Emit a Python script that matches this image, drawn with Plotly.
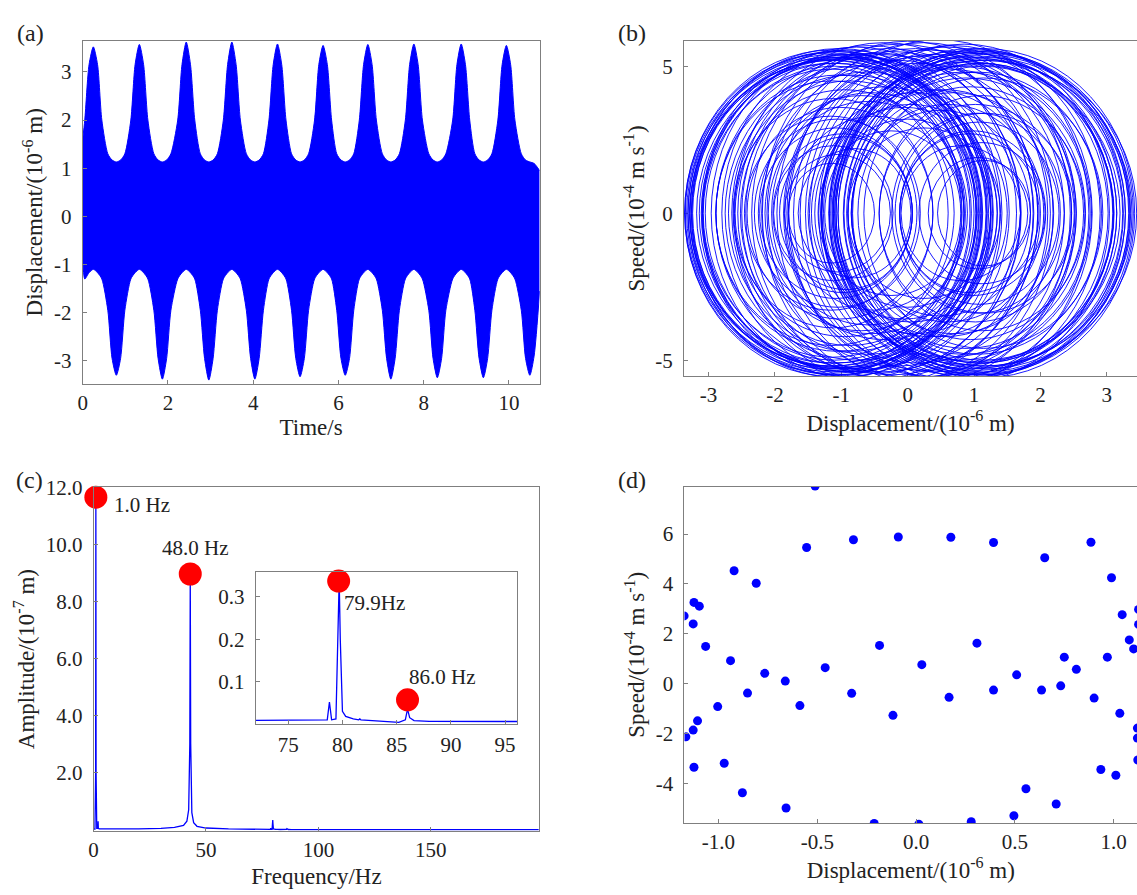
import plotly.graph_objects as go

# ---------------- data ----------------
# (a) displacement time history: upper / lower edges of the dense oscillation band
t_env = [0.00,
         0.05, 0.15, 0.25, 0.35, 0.45, 0.59, 0.69, 0.79, 0.89, 0.99,
         1.13, 1.23, 1.33, 1.43, 1.53, 1.67, 1.77, 1.87, 1.97, 2.07,
         2.23, 2.33, 2.43, 2.53, 2.63, 2.76, 2.86, 2.96, 3.06, 3.16,
         3.30, 3.40, 3.50, 3.60, 3.70, 3.84, 3.94, 4.04, 4.14, 4.24,
         4.37, 4.47, 4.57, 4.67, 4.77, 4.90, 5.00, 5.10, 5.20, 5.30,
         5.44, 5.54, 5.64, 5.74, 5.84, 5.96, 6.06, 6.16, 6.26, 6.36,
         6.49, 6.59, 6.69, 6.79, 6.89, 7.03, 7.13, 7.23, 7.33, 7.43,
         7.57, 7.67, 7.77, 7.87, 7.97, 8.12, 8.22, 8.32, 8.42, 8.52,
         8.68, 8.78, 8.88, 8.98, 9.08, 9.20, 9.30, 9.40, 9.50, 9.60,
         9.74, 9.84, 9.94, 10.04, 10.14, 10.29, 10.39, 10.49, 10.59,
         10.72]
upper_env = [1.6,
             2.0, 3.15, 3.52, 3.15, 2.0, 1.3, 1.17, 1.13, 1.17, 1.3,
             2.0, 3.15, 3.57, 3.15, 2.0, 1.3, 1.17, 1.13, 1.17, 1.3,
             2.0, 3.15, 3.62, 3.15, 2.0, 1.3, 1.17, 1.13, 1.17, 1.3,
             2.0, 3.15, 3.62, 3.15, 2.0, 1.3, 1.17, 1.13, 1.17, 1.3,
             2.0, 3.15, 3.58, 3.15, 2.0, 1.3, 1.17, 1.13, 1.17, 1.3,
             2.0, 3.15, 3.55, 3.15, 2.0, 1.3, 1.17, 1.13, 1.17, 1.3,
             2.0, 3.15, 3.57, 3.15, 2.0, 1.3, 1.17, 1.13, 1.17, 1.3,
             2.0, 3.15, 3.58, 3.15, 2.0, 1.3, 1.17, 1.13, 1.17, 1.3,
             2.0, 3.15, 3.58, 3.15, 2.0, 1.3, 1.17, 1.13, 1.17, 1.3,
             2.0, 3.15, 3.55, 3.15, 2.0, 1.3, 1.17, 1.13, 1.1,
             0.95]
lower_env = [-0.8,
             -1.3, -1.17, -1.1, -1.17, -1.3, -1.95, -2.95, -3.30, -2.95, -1.95,
             -1.3, -1.17, -1.1, -1.17, -1.3, -1.95, -2.95, -3.38, -2.95, -1.95,
             -1.3, -1.17, -1.1, -1.17, -1.3, -1.95, -2.95, -3.40, -2.95, -1.95,
             -1.3, -1.17, -1.1, -1.17, -1.3, -1.95, -2.95, -3.38, -2.95, -1.95,
             -1.3, -1.17, -1.1, -1.17, -1.3, -1.95, -2.95, -3.33, -2.95, -1.95,
             -1.3, -1.17, -1.1, -1.17, -1.3, -1.95, -2.95, -3.30, -2.95, -1.95,
             -1.3, -1.17, -1.1, -1.17, -1.3, -1.95, -2.95, -3.38, -2.95, -1.95,
             -1.3, -1.17, -1.1, -1.17, -1.3, -1.95, -2.95, -3.35, -2.95, -1.95,
             -1.3, -1.17, -1.1, -1.17, -1.3, -1.95, -2.95, -3.35, -2.95, -1.95,
             -1.3, -1.17, -1.1, -1.17, -1.3, -1.95, -2.95, -3.30, -2.90,
             -1.55]

# (b) phase portrait: loop centres, half widths and half heights (read from the tangle)
loop_center = [-1.16, -1.15, -1.14, -1.12, -1.10, -1.07, -1.03, -0.98, -0.92, -0.85, -0.77, -0.68,
               -0.58, -0.47, -0.36, -0.24, -0.12, 0.00, 0.12, 0.24, 0.36, 0.47, 0.58, 0.68,
               0.77, 0.85, 0.92, 0.98, 1.03, 1.07, 1.10, 1.12, 1.14, 1.15, 1.16, 1.15, 1.13, 1.10,
               -1.13, -1.11, -1.08, -1.05, 0.30, -0.30, 0.90, -0.90, 1.05, -1.00,
               -1.15, 1.15, -1.12, 1.12, -1.08, 1.08, -1.02, 1.02, -0.95, 0.95, -0.85, 0.85,
               -0.70, 0.70, -0.50, 0.50, -0.25, 0.25, 0.00, -1.14, 1.14, -1.10, 1.10, -0.98,
               0.98, -0.80, 0.80, -0.60, 0.60, -0.35, 0.35, -1.16, 1.16, -1.06, 1.06, 0.10,
               -1.16, -1.13, -1.09, -1.04, -0.96, -0.88, -0.75, -0.62, -0.40, -0.15, 0.15, 0.40,
               0.62, 0.75, 0.88, 0.96, 1.04, 1.09, 1.13, 1.16, -1.12, 1.12, -1.06, 1.06, -0.93,
               0.93, -0.55, 0.55, -0.05, 0.05]
loop_half_w = [2.20, 2.18, 2.22, 2.19, 2.21, 2.17, 2.23, 2.20, 2.18, 2.24, 2.19, 2.21,
               2.22, 2.18, 2.25, 2.20, 2.23, 2.19, 2.24, 2.21, 2.18, 2.26, 2.20, 2.22,
               2.25, 2.19, 2.23, 2.27, 2.21, 2.26, 2.24, 2.28, 2.22, 2.27, 2.29, 2.20, 2.25, 2.18,
               2.16, 2.24, 2.20, 2.23, 2.17, 2.26, 2.21, 2.19, 2.15, 2.25,
               0.65, 0.70, 0.90, 0.95, 1.15, 1.20, 1.40, 1.45, 1.65, 1.70, 1.85, 1.90,
               1.55, 1.60, 1.30, 1.35, 1.10, 1.15, 1.25, 1.75, 1.80, 1.95, 2.00, 1.05,
               1.10, 0.85, 0.90, 1.50, 1.45, 1.70, 1.65, 1.30, 1.35, 0.80, 0.75, 1.60,
               2.10, 1.95, 2.05, 1.85, 2.15, 1.75, 2.00, 1.90, 2.10, 2.05, 2.00, 2.12,
               1.92, 2.02, 1.80, 2.14, 1.88, 2.06, 1.96, 2.12, 1.50, 1.55, 1.25, 1.30, 1.00,
               1.05, 1.60, 1.65, 1.40, 1.45]
loop_half_h = [5.45, 5.30, 5.55, 5.20, 5.50, 5.35, 5.60, 5.25, 5.55, 5.40, 5.65, 5.30,
               5.70, 5.45, 5.80, 5.50, 5.75, 5.85, 5.60, 5.80, 5.55, 5.90, 5.65, 5.70,
               5.50, 5.75, 5.45, 5.60, 5.35, 5.55, 5.25, 5.50, 5.40, 5.60, 5.30, 5.45, 5.20, 5.50,
               5.10, 5.40, 5.25, 5.50, 5.35, 5.60, 5.15, 5.40, 5.05, 5.30,
               1.70, 1.80, 2.30, 2.40, 2.90, 3.10, 3.60, 3.70, 4.20, 4.30, 4.70, 4.80,
               4.00, 4.10, 3.30, 3.50, 2.80, 2.90, 3.20, 4.50, 4.60, 5.00, 5.10, 2.70,
               2.80, 2.20, 2.30, 3.80, 3.70, 4.30, 4.20, 3.30, 3.40, 2.00, 1.90, 4.10,
               5.20, 4.90, 5.10, 4.70, 5.30, 4.50, 5.00, 4.80, 5.40, 5.20, 5.10, 5.40,
               4.90, 5.00, 4.60, 5.30, 4.80, 5.10, 5.00, 5.20, 3.90, 4.00, 3.20, 3.40, 2.60,
               2.70, 4.10, 4.20, 3.60, 3.70]

# (c) amplitude spectrum
freq = [0, 0.6, 0.9, 1.0, 1.1, 1.4, 1.9, 2.0, 2.1, 2.5, 10, 20, 30, 36, 40, 41.5, 42.3, 42.8, 43.0, 43.2,
        43.7, 44.5, 46, 50, 60, 66, 70, 78.6, 78.8, 79.0, 79.4, 79.6, 79.7, 79.8, 80.0, 80.3, 81.0, 81.5,
        81.6, 81.7, 83, 85, 85.2, 85.8, 86.0, 86.2, 86.6, 88, 96, 198]
amp = [0.02, 0.02, 2.0, 11.6, 2.0, 0.05, 0.05, 0.3, 0.05, 0.03, 0.02, 0.03, 0.05, 0.08, 0.15, 0.3, 0.7, 3.0,
       8.9, 3.0, 0.6, 0.25, 0.12, 0.06, 0.03, 0.02, 0.008, 0.01, 0.052, 0.01, 0.012, 0.2, 0.34, 0.2, 0.03,
       0.018, 0.012, 0.01, 0.012, 0.01, 0.008, 0.006, 0.004, 0.01, 0.035, 0.015, 0.008, 0.006, 0.005, 0.005]
main_peak_f = [1.0, 43.0]
main_peak_a = [11.65, 8.96]
main_peak_lbl = ["1.0 Hz", "48.0 Hz"]
inset_peak_f = [79.65, 86.0]
inset_peak_a = [0.337, 0.057]
inset_peak_lbl = ["79.9Hz", "86.0 Hz"]

# (d) Poincaré section points
poin_x = [-1.174, -1.165, -1.128, -1.124, -1.097, -1.128, -1.106, -1.124, -1.065, -1.004, -0.971, -0.939,
          -0.921, -0.879, -0.853, -0.809, -0.766, -0.662, -0.658, -0.588, -0.554, -0.511, -0.460, -0.326,
          -0.317, -0.212, -0.185, -0.117, -0.090, 0.014, 0.029, 0.167, 0.176, 0.279, 0.308, 0.392, 0.392,
          0.495, 0.509, 0.556, 0.635, 0.651, 0.709, 0.732, 0.750, 0.811, 0.885, 0.901, 0.935, 0.968, 0.989,
          1.011, 1.031, 1.043, 1.079, 1.101, 1.126, 1.126, 1.120, 1.120, 1.122]
poin_y = [2.72, -2.12, 2.40, 3.26, 3.11, -1.85, -1.48, -3.34, 1.50, -0.91, -3.18, 0.93,
          4.53, -4.36, -0.37, 4.03, 0.42, 0.11, -4.97, -0.87, 5.46, 7.92, 0.65, -0.38,
          5.77, -5.59, 1.54, -1.26, 5.88, -5.62, 0.77, -0.54, 5.87, -5.52, 1.63, -0.25, 5.66,
          -5.28, 0.36, -4.20, -0.25, 5.05, -4.81, -0.08, 1.07, 0.58, 5.67, -0.57, -3.43, 1.07, 4.25,
          -3.66, -1.18, 2.77, 1.76, 1.40, 2.38, 2.98, -1.77, -2.17, -3.05]

# tick labels
a_yticks = [-3, -2, -1, 0, 1, 2, 3]
a_yticktext = ["-3", "-2", "-1", "0", "1", "2", "3"]
a_xticks = [0, 2, 4, 6, 8, 10]
b_xticks = [-3, -2, -1, 0, 1, 2, 3]
b_xticktext = ["-3", "-2", "-1", "0", "1", "2", "3"]
b_yticks = [-5, 0, 5]
b_yticktext = ["-5", "0", "5"]
c_xticks = [0, 50, 100, 150]
c_yticks = [2, 4, 6, 8, 10, 12]
c_yticktext = ["2.0", "4.0", "6.0", "8.0", "10.0", "12.0"]
ins_xticks = [75, 80, 85, 90, 95]
ins_yticks = [0.1, 0.2, 0.3]
d_xticks = [-1.0, -0.5, 0.0, 0.5, 1.0]
d_xticktext = ["-1.0", "-0.5", "0.0", "0.5", "1.0"]
d_yticks = [-4, -2, 0, 2, 4, 6]
d_yticktext = ["-4", "-2", "0", "2", "4", "6"]

# ---------------- styling ----------------
W, H = 1137, 895
FONT = "Liberation Serif, Times New Roman, serif"
BLUE = "#0000FF"
RED = "#FF0000"
FRAME = "#7f7f7f"
TXT = "#222222"


def dom_x(a, b):
    return [a / W, b / W]


def dom_y(top, bottom):
    return [1 - bottom / H, 1 - top / H]


fig = go.Figure()

# (a)
fig.add_trace(go.Scatter(x=t_env, y=lower_env, mode="lines",
                         line=dict(color=BLUE, width=1, shape="spline", smoothing=0.7),
                         xaxis="x", yaxis="y", showlegend=False, hoverinfo="skip"))
fig.add_trace(go.Scatter(x=t_env, y=upper_env, mode="lines",
                         line=dict(color=BLUE, width=1, shape="spline", smoothing=0.7),
                         fill="tonexty", fillcolor=BLUE, xaxis="x", yaxis="y", showlegend=False, hoverinfo="skip"))

# (b) invisible anchor trace, loops drawn as ellipses on the (b) axes
fig.add_trace(go.Scatter(x=[loop_center[0]], y=[0], mode="markers", marker=dict(size=1, color="rgba(0,0,0,0)"),
                         xaxis="x2", yaxis="y2", showlegend=False, hoverinfo="skip"))
shapes = []
for c, a, b in zip(loop_center, loop_half_w, loop_half_h):
    shapes.append(dict(type="circle", xref="x2", yref="y2", x0=c - a, x1=c + a, y0=-b, y1=b,
                       line=dict(color=BLUE, width=0.9), layer="above"))

# (c) main spectrum
fig.add_trace(go.Scatter(x=freq, y=amp, mode="lines", line=dict(color=BLUE, width=1.3),
                         xaxis="x3", yaxis="y3", showlegend=False, hoverinfo="skip"))
fig.add_trace(go.Scatter(x=main_peak_f, y=main_peak_a, mode="markers", marker=dict(size=23, color=RED),
                         xaxis="x3", yaxis="y3", showlegend=False, hoverinfo="skip", cliponaxis=False))
# inset
fig.add_trace(go.Scatter(x=freq, y=amp, mode="lines", line=dict(color=BLUE, width=1.3),
                         xaxis="x4", yaxis="y4", showlegend=False, hoverinfo="skip"))
fig.add_trace(go.Scatter(x=inset_peak_f, y=inset_peak_a, mode="markers", marker=dict(size=23, color=RED),
                         xaxis="x4", yaxis="y4", showlegend=False, hoverinfo="skip", cliponaxis=False))

# (d)
fig.add_trace(go.Scatter(x=poin_x, y=poin_y, mode="markers", marker=dict(size=9, color=BLUE, symbol="circle"),
                         xaxis="x5", yaxis="y5", showlegend=False, hoverinfo="skip"))

tickfont = dict(family=FONT, size=21, color=TXT)
titlefont = dict(family=FONT, size=23, color=TXT)


def ax(domain, rng, tickvals, ticktext=None, title=None, anchor=None, mirror=True, standoff=None, lblpad=0):
    d = dict(domain=domain, range=rng, tickvals=tickvals, showline=True, linecolor=FRAME, linewidth=1,
             mirror=mirror, ticks="inside", ticklen=4, tickcolor=FRAME, showgrid=False, zeroline=False,
             tickfont=tickfont, anchor=anchor, fixedrange=True, ticklabelstandoff=lblpad)
    if ticktext is not None:
        d["ticktext"] = ticktext
    if title is not None:
        d["title"] = dict(text=title, font=titlefont)
        if standoff is not None:
            d["title"]["standoff"] = standoff
    return d


disp_title = "Displacement/(10<sup>-6</sup> m)"
speed_title = "Speed/(10<sup>-4</sup> m s<sup>-1</sup>)"

fig.update_layout(
    width=W, height=H, margin=dict(l=0, r=0, t=0, b=0),
    paper_bgcolor="white", plot_bgcolor="white",
    font=dict(family=FONT, color=TXT),
    xaxis=ax(dom_x(78, 537), [0, 10.72], a_xticks, title="Time/s", anchor="y", standoff=3, lblpad=0),
    yaxis=ax(dom_y(29, 377), [-3.48, 3.65], a_yticks, a_yticktext, title=disp_title, anchor="x",
             standoff=4, lblpad=6),
    xaxis2=ax(dom_x(682, 1137), [-3.37, 3.455], b_xticks, b_xticktext, title=disp_title, anchor="y2",
              standoff=2, lblpad=0),
    yaxis2=ax(dom_y(29.3, 369), [-5.54, 5.86], b_yticks, b_yticktext, title=speed_title, anchor="x2",
              mirror=False, standoff=4, lblpad=6),
    xaxis3=ax(dom_x(89, 536.7), [0, 198.3], c_xticks, title="Frequency/Hz", anchor="y3", standoff=6, lblpad=0),
    yaxis3=ax(dom_y(481.7, 830), [-0.04, 12.0], c_yticks, c_yticktext, title="Amplitude/(10<sup>-7</sup> m)",
              anchor="x3", standoff=4, lblpad=6),
    xaxis4=ax(dom_x(251.8, 514.3), [72, 96.1], ins_xticks, anchor="y4", lblpad=2),
    yaxis4=ax(dom_y(567.3, 721.7), [0, 0.359], ins_yticks, anchor="x4", lblpad=6),
    xaxis5=ax(dom_x(682.5, 1137), [-1.172, 1.118], d_xticks, d_xticktext, title=disp_title, anchor="y5",
              standoff=6, lblpad=0),
    yaxis5=ax(dom_y(481, 822), [-5.57, 7.9], d_yticks, d_yticktext, title=speed_title, anchor="x5",
              mirror=False, standoff=4, lblpad=6),
    shapes=shapes,
)

annots = []
for lbl, x, y in zip(["(a)", "(b)", "(c)", "(d)"], [26, 630, 25, 630], [21, 21, 474, 474]):
    annots.append(dict(text=lbl, x=x / W, y=1 - y / H, xref="paper", yref="paper", showarrow=False,
                       xanchor="center", yanchor="middle", font=dict(family=FONT, size=24, color=TXT)))
# peak labels, anchored to the peak markers
lblfont = dict(family=FONT, size=21, color=TXT)
annots.append(dict(text=main_peak_lbl[0], x=main_peak_f[0], y=main_peak_a[0], xref="x3", yref="y3", showarrow=False,
                   xanchor="left", yanchor="middle", xshift=16, yshift=-8, font=lblfont))
annots.append(dict(text=main_peak_lbl[1], x=main_peak_f[1], y=main_peak_a[1], xref="x3", yref="y3", showarrow=False,
                   xanchor="center", yanchor="middle", xshift=5, yshift=26, font=lblfont))
annots.append(dict(text=inset_peak_lbl[0], x=inset_peak_f[0], y=inset_peak_a[0], xref="x4", yref="y4", showarrow=False,
                   xanchor="left", yanchor="middle", xshift=3, yshift=-22, font=lblfont))
annots.append(dict(text=inset_peak_lbl[1], x=inset_peak_f[1], y=inset_peak_a[1], xref="x4", yref="y4", showarrow=False,
                   xanchor="center", yanchor="middle", xshift=35, yshift=23, font=lblfont))
fig.update_layout(annotations=annots)

fig.write_html("out.html")
